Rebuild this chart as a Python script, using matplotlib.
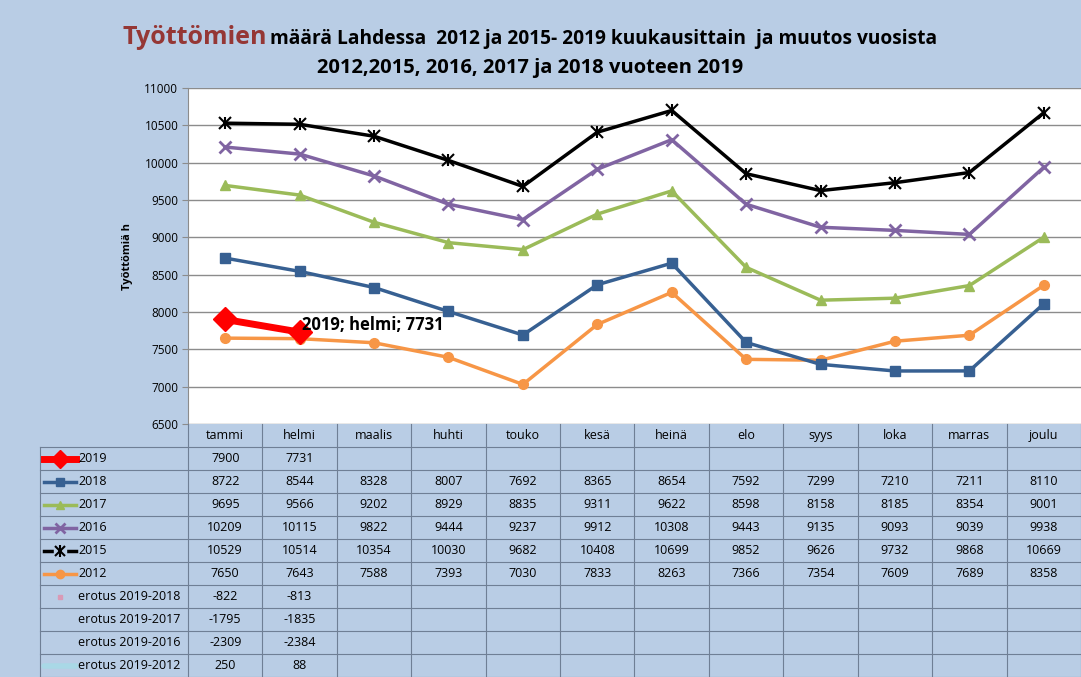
import matplotlib
matplotlib.use("Agg")
import matplotlib.pyplot as plt
import numpy as np

months = ['tammi', 'helmi', 'maalis', 'huhti', 'touko', 'kesä', 'heinä',
          'elo', 'syys', 'loka', 'marras', 'joulu']
y2019 = [7900, 7731]
y2018 = [8722, 8544, 8328, 8007, 7692, 8365, 8654, 7592, 7299, 7210, 7211, 8110]
y2017 = [9695, 9566, 9202, 8929, 8835, 9311, 9622, 8598, 8158, 8185, 8354, 9001]
y2016 = [10209, 10115, 9822, 9444, 9237, 9912, 10308, 9443, 9135, 9093, 9039, 9938]
y2015 = [10529, 10514, 10354, 10030, 9682, 10408, 10699, 9852, 9626, 9732, 9868, 10669]
y2012 = [7650, 7643, 7588, 7393, 7030, 7833, 8263, 7366, 7354, 7609, 7689, 8358]
d2018 = [-822, -813]
d2017 = [-1795, -1835]
d2016 = [-2309, -2384]
d2012 = [250, 88]
yticks = [6500, 7000, 7500, 8000, 8500, 9000, 9500, 10000, 10500, 11000]

W, H = 1081, 677
BG = '#b9cde5'
FONT = ['Open Sans', 'DejaVu Sans']
plt.rcParams['font.family'] = FONT

fig = plt.figure(figsize=(W / 100, H / 100), dpi=100, facecolor=BG)

def fr(x0, y0, x1, y1):
    return [x0 / W, 1 - y1 / H, (x1 - x0) / W, (y1 - y0) / H]

# ---------- main chart ----------
ax = fig.add_axes(fr(188, 88, 1081, 424))
ax.set_facecolor('white')
xs = np.arange(12) + 0.5
ax.set_xlim(0, 12)
ax.set_ylim(6500, 11000)
ax.set_yticks(yticks)
ax.set_yticklabels([str(v) for v in yticks], fontsize=8.5)
ax.set_xticks([])
ax.grid(axis='y', color='#8c8c8c', lw=1)
ax.set_axisbelow(True)
for s in ['top', 'right', 'bottom']:
    ax.spines[s].set_visible(False)
ax.spines['left'].set_color('#8c8c8c')
ax.tick_params(axis='y', length=4, color='#8c8c8c', pad=3)
ax.set_ylabel('Työttömiä h', fontsize=8, fontweight='bold', labelpad=8)

styles = {
    '2015': dict(color='black', lw=2.5),
    '2016': dict(color='#8064a2', lw=2.5, marker='x', ms=8, mew=2),
    '2017': dict(color='#9bbb59', lw=2.5, marker='^', ms=7),
    '2018': dict(color='#376092', lw=2.5, marker='s', ms=7),
    '2012': dict(color='#f79646', lw=2.5, marker='o', ms=7),
}
ax.plot(xs, y2012, **styles['2012'])
ax.plot(xs, y2018, **styles['2018'])
ax.plot(xs, y2017, **styles['2017'])
ax.plot(xs, y2016, **styles['2016'])
ax.plot(xs, y2015, **styles['2015'])
ax.plot(xs, y2015, ls='none', marker='x', ms=8, mew=1.5, color='black')
ax.plot(xs, y2015, ls='none', marker='|', ms=9, mew=1.5, color='black')
ax.plot(xs[:2], y2019, color='#ff0000', lw=5, marker='D', ms=12)
ax.annotate('2019; helmi; 7731', xy=(xs[1], y2019[1]), xytext=(2, 5),
            textcoords='offset points', fontsize=12, fontweight='bold',
            ha='left', va='center')

# ---------- title ----------
t1 = fig.text(122 / W, 1 - 44 / H, 'Työttömien', fontsize=18, color='#953735',
              fontweight='bold', ha='left', va='baseline')
fig.canvas.draw()
bb = t1.get_window_extent()
fig.text((bb.x1 + 3) / W, 1 - 44 / H,
         'määrä Lahdessa  2012 ja 2015- 2019 kuukausittain  ja muutos vuosista',
         fontsize=13.8, fontweight='bold', ha='left', va='baseline')
fig.text(530 / W, 1 - 73 / H, '2012,2015, 2016, 2017 ja 2018 vuoteen 2019',
         fontsize=14.5, fontweight='bold', ha='center', va='baseline')

# ---------- data table ----------
colw = (1081 - 188) / 12.0
left = -(188 - 40) / colw
tx = fig.add_axes(fr(40, 424, 1081, 677))
tx.set_xlim(left, 12)
tx.set_ylim(11, 0)
tx.axis('off')
tx.patch.set_alpha(0)

LC = '#6f7f95'
nrows = 11
for r in range(1, nrows + 1):
    tx.plot([left, 12], [r, r], color=LC, lw=0.8, clip_on=False)
for c in range(0, 13):
    tx.plot([c, c], [0, nrows], color=LC, lw=0.8, clip_on=False)
tx.plot([left, left], [1, nrows], color=LC, lw=0.8, clip_on=False)

TF = 9
for i, m in enumerate(months):
    tx.text(i + 0.5, 0.5, m, ha='center', va='center', fontsize=TF)

rows = [('2019', y2019), ('2018', y2018), ('2017', y2017), ('2016', y2016),
        ('2015', y2015), ('2012', y2012),
        ('erotus 2019-2018', d2018), ('erotus 2019-2017', d2017),
        ('erotus 2019-2016', d2016), ('erotus 2019-2012', d2012)]

def px(xpix):
    return left + (xpix - 40) / colw

for r, (name, vals) in enumerate(rows):
    yc = r + 1.5
    for i, v in enumerate(vals):
        tx.text(i + 0.5, yc, str(v), ha='center', va='center', fontsize=TF)
    tx.text(px(78), yc, name, ha='left', va='center', fontsize=TF)

kx = [px(44), px(76)]
km = (kx[0] + kx[1]) / 2
def key(r, **kw):
    yc = r + 1.5
    tx.plot(kx, [yc, yc], clip_on=False, color=kw['color'], lw=kw['lw'])
    if 'marker' in kw:
        tx.plot([km], [yc], ls='none', clip_on=False, color=kw['color'],
                marker=kw['marker'], ms=kw.get('ms', 6), mew=kw.get('mew', 1))

key(0, color='#ff0000', lw=5, marker='D', ms=9)
key(1, color='#376092', lw=2.5, marker='s', ms=6)
key(2, color='#9bbb59', lw=2.5, marker='^', ms=6)
key(3, color='#8064a2', lw=2.5, marker='x', ms=7, mew=2)
key(4, color='black', lw=2.5)
tx.plot([km], [5.5], ls='none', marker='s', ms=9, color=BG, clip_on=False)
tx.plot([km], [5.5], ls='none', marker='x', ms=7, mew=1.5, color='black', clip_on=False)
tx.plot([km], [5.5], ls='none', marker='|', ms=8, mew=1.5, color='black', clip_on=False)
key(5, color='#f79646', lw=2.5, marker='o', ms=6)
tx.plot([km], [7.5], ls='none', marker='s', ms=3, color='#d99ab6', clip_on=False)
tx.plot(kx, [10.5, 10.5], color='#a9d8e6', lw=4, clip_on=False, solid_capstyle='round')

fig.savefig('out.png', dpi=100, facecolor=BG)
